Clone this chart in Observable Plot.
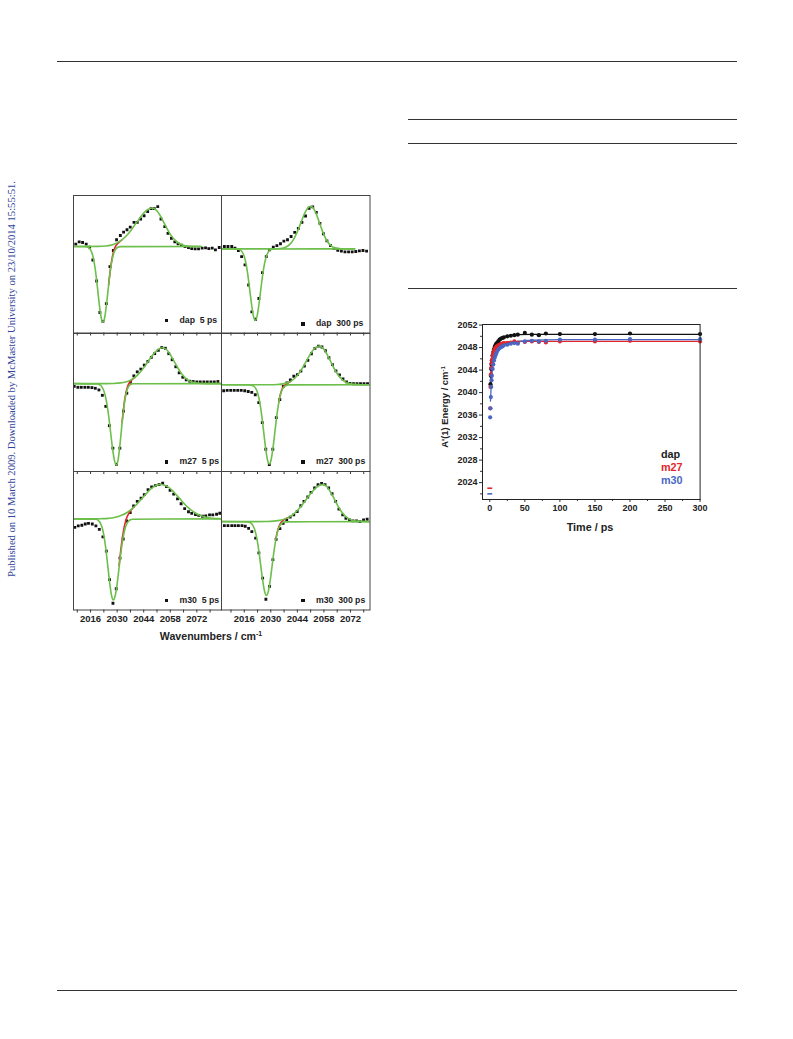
<!DOCTYPE html>
<html>
<head>
<meta charset="utf-8">
<script src="https://cdn.jsdelivr.net/npm/d3@7"></script>
<script src="https://cdn.jsdelivr.net/npm/@observablehq/plot@0.6"></script>
<style>
  body { margin: 0; background: #fff; }
  #page { position: relative; width: 793px; height: 1039px; overflow: hidden; background: #fff;
          font-family: "Liberation Sans", Arial, sans-serif; }
  .rule { position: absolute; height: 0; border-top: 1px solid #333; }
  .lbl { position: absolute; white-space: pre; font-weight: bold; line-height: 1; }
  .vert { position: absolute; white-space: nowrap; transform: translate(-50%, -50%) rotate(-90deg); line-height: 1; }
  .sq { position: absolute; width: 3.6px; height: 3.6px; background: #111; }
  sup { font-size: 65%; vertical-align: 0.55em; line-height: 0; }
</style>
</head>
<body>
<div id="page"></div>
<script>
// ---------------- Spectral panels: data points [wavenumber, dA (a.u.)] ----------------
const dap5Points = [[2008.2,1.7],[2010.0,3.4],[2011.8,2.9],[2013.7,1.7],[2015.5,-0.5],[2017.2,-9.8],[2019.2,-25.1],[2020.9,-48.0],[2022.5,-54.4],[2024.3,-41.5],[2026.2,-14.6],[2028.0,-2.9],[2029.7,4.9],[2031.7,8.0],[2033.4,10.5],[2035.2,12.2],[2036.9,14.1],[2038.9,17.6],[2040.6,17.6],[2042.4,20.0],[2044.2,22.4],[2046.1,25.4],[2047.9,27.6],[2049.6,27.6],[2051.4,29.0],[2053.1,20.0],[2055.1,14.5],[2056.8,9.5],[2058.6,6.0],[2060.4,3.4],[2062.1,2.0],[2063.9,1.0],[2065.8,0],[2067.6,-0.7],[2069.3,-1.5],[2071.1,-1.7],[2072.9,-1.7],[2074.8,-1.2],[2076.6,-1.0],[2078.3,-1.5],[2080.1,-1.2],[2081.8,-2.4],[2083.8,-0.7]];
const dap300Points = [[2005.5,1.7],[2007.4,1.7],[2009.4,1.7],[2011.1,0.5],[2012.9,-1.2],[2014.6,-5.6],[2016.4,-11.7],[2018.3,-26.3],[2020.0,-45.8],[2022.0,-51.2],[2023.7,-36.1],[2025.6,-17.3],[2027.6,-5.6],[2029.3,-0.7],[2031.3,1.2],[2033.2,2.4],[2035.1,3.7],[2036.9,5.6],[2038.8,6.6],[2040.7,9.0],[2042.6,12.0],[2044.5,14.9],[2046.4,19.3],[2048.3,23.9],[2050.2,29.5],[2052.1,30.5],[2054.0,26.5],[2055.9,18.5],[2057.7,11.0],[2059.6,5.8],[2061.5,2.4],[2063.4,0.2],[2065.3,-1.0],[2067.2,-1.7],[2069.1,-2.2],[2071.0,-2.2],[2072.9,-2.2],[2074.8,-1.9],[2076.7,-1.5],[2078.6,-1.2],[2080.5,-1.7]];
const m27fastPoints = [[2007.4,-2.0],[2009.3,-2.7],[2011.1,-2.7],[2013.0,-2.7],[2014.8,-2.7],[2016.7,-2.9],[2018.5,-3.4],[2020.4,-4.6],[2022.2,-8.5],[2024.0,-16.5],[2025.9,-30.5],[2027.75,-46.8],[2029.6,-58.5],[2031.45,-46.8],[2033.3,-20.0],[2035.1,-7.0],[2037.0,1.0],[2038.8,5.6],[2040.6,8.5],[2042.5,10.5],[2044.3,13.4],[2046.2,16.1],[2048.0,19.0],[2049.8,21.7],[2051.7,24.1],[2053.5,26.1],[2055.4,25.6],[2057.2,21.7],[2059.0,17.3],[2060.9,12.2],[2062.7,7.8],[2064.6,4.6],[2066.4,2.7],[2068.3,1.7],[2070.1,1.5],[2072.0,1.2],[2073.8,1.2],[2075.7,1.2],[2077.5,1.2],[2079.4,1.2],[2081.2,1.2],[2083.1,1.5]];
const m27slowPoints = [[2005.15,-4.4],[2007.0,-4.1],[2008.85,-4.1],[2010.7,-4.1],[2012.55,-4.1],[2014.4,-4.1],[2016.25,-4.4],[2018.1,-4.9],[2019.95,-5.6],[2021.8,-7.3],[2023.65,-13.0],[2025.5,-27.5],[2027.35,-46.8],[2029.2,-57.8],[2031.05,-46.8],[2032.9,-23.9],[2034.75,-10.7],[2036.6,-1.2],[2038.45,1.2],[2040.3,3.4],[2042.15,6.1],[2044.0,7.3],[2045.85,9.8],[2047.7,13.4],[2049.55,17.6],[2051.4,22.4],[2053.25,26.3],[2055.1,28.0],[2056.95,27.3],[2058.8,24.6],[2060.65,19.5],[2062.5,14.6],[2064.35,10.0],[2066.2,7.1],[2068.05,4.1],[2069.9,2.0],[2071.75,1.0],[2073.6,0.7],[2075.45,0.7],[2077.3,0.7],[2079.15,0.7],[2081.0,0.7]];
const m30fastPoints = [[2007.7,-6.1],[2009.5,-5.1],[2011.4,-4.6],[2013.2,-3.7],[2014.9,-3.2],[2016.9,-3.7],[2018.8,-5.1],[2020.6,-7.6],[2022.5,-13.0],[2024.3,-23.4],[2026.0,-44.1],[2027.8,-61.2],[2029.5,-50.7],[2031.5,-28.5],[2033.2,-14.6],[2035.0,-1.5],[2036.9,4.6],[2038.7,9.5],[2040.6,12.7],[2042.6,15.1],[2044.3,17.6],[2046.3,21.2],[2048.2,23.2],[2050.1,24.1],[2052.1,24.9],[2054.0,25.9],[2056.0,23.4],[2057.9,20.7],[2059.8,18.0],[2061.8,14.5],[2063.7,11.0],[2065.6,7.5],[2067.6,5.2],[2069.3,4.0],[2071.3,3.2],[2073.0,2.6],[2075.0,1.9],[2076.7,2.2],[2078.7,2.9],[2080.4,2.9],[2082.4,3.4],[2084.1,4.1]];
const m30slowPoints = [[2005.5,-2.9],[2007.4,-2.9],[2009.4,-2.9],[2011.1,-2.9],[2012.9,-2.9],[2014.8,-2.9],[2016.5,-3.4],[2018.3,-4.9],[2020.0,-7.3],[2022.0,-12.0],[2023.7,-22.7],[2025.7,-41.0],[2027.4,-56.3],[2029.3,-47.0],[2031.1,-27.6],[2032.8,-12.9],[2034.8,-5.1],[2036.5,-1.2],[2038.4,1.2],[2040.2,3.2],[2042.1,4.9],[2043.9,7.3],[2045.8,11.5],[2047.5,14.6],[2049.5,17.8],[2051.2,21.2],[2053.1,24.4],[2054.9,26.8],[2056.8,27.6],[2058.6,26.8],[2060.5,24.4],[2062.3,20.2],[2064.2,14.6],[2065.9,9.0],[2067.9,4.9],[2069.6,2.4],[2071.5,1.2],[2073.3,0.5],[2075.2,0.5],[2077.0,0],[2078.9,1.2],[2080.8,1.7]];

// ---------------- Fitted components (bleach, excited band, red sum) ----------------
const dap5Bleach = [[2004,0],[2013.5,-0.1],[2014.5,-0.5],[2015.5,-1.5],[2016.5,-3.8],[2017.5,-8.6],[2018.5,-16.8],[2019.5,-28.3],[2020.5,-40.9],[2021.5,-51.1],[2022.5,-55.0],[2023.5,-51.1],[2024.5,-40.9],[2025.5,-28.3],[2026.5,-16.8],[2027.5,-8.6],[2028.5,-3.8],[2029.5,-1.5],[2030.5,-0.5],[2031.5,-0.1],[2074.2,0]];
const dap5Excited = [[2004,0],[2020,0.1],[2024,0.4],[2028,1.5],[2032,4.3],[2036,9.5],[2040,17.0],[2044,24.3],[2046,26.8],[2048.5,28.0],[2050.5,26.6],[2052.5,22.9],[2054.5,17.8],[2056.5,12.5],[2058.5,7.9],[2060.5,4.6],[2062.5,2.4],[2064.5,1.1],[2067.5,0.3],[2074.2,0]];
const dap5Sum = [[2025.5,-27.7],[2026.5,-16.0],[2027.5,-7.4],[2028.5,-2.0],[2029.5,0.9],[2030.5,2.5],[2031.5,3.7],[2032.5,4.8]];

const dap300Bleach = [[2004,0],[2011.8,-0.1],[2012.8,-0.25],[2013.8,-0.75],[2014.8,-2.0],[2015.8,-4.8],[2016.8,-9.9],[2017.8,-18.0],[2018.8,-28.7],[2019.8,-39.9],[2020.8,-48.7],[2021.8,-52.0],[2022.8,-48.7],[2023.8,-39.9],[2024.8,-28.7],[2025.8,-18.0],[2026.8,-9.9],[2027.8,-4.8],[2028.8,-2.0],[2029.8,-0.75],[2030.8,-0.25],[2031.8,-0.1],[2074.2,0]];
const dap300Excited = [[2004,0],[2030,0],[2035,0.3],[2038,1.4],[2040,3.3],[2042,6.9],[2044,12.5],[2046,19.5],[2048,26.3],[2049.5,29.7],[2051,31.0],[2052.5,29.5],[2054,25.3],[2056,17.6],[2058,10.2],[2060,5.0],[2062,2.0],[2064,0.7],[2067,0.1],[2074.2,0]];

const m27fastBleach = [[2004,0],[2019.6,-0.24],[2020.6,-0.65],[2021.6,-1.7],[2022.6,-3.9],[2023.6,-8.0],[2024.6,-14.7],[2025.6,-24.2],[2026.6,-35.8],[2027.6,-47.3],[2028.6,-55.8],[2029.6,-59.0],[2030.6,-54.5],[2031.6,-42.8],[2032.6,-28.7],[2033.6,-16.4],[2034.6,-8.0],[2035.6,-3.3],[2036.6,-1.2],[2037.6,-0.35],[2038.6,-0.1],[2085,0]];
const m27fastExcited = [[2004,0],[2024,0],[2028,0.1],[2032,0.5],[2035,1.3],[2038,3.2],[2041,6.5],[2044,11.4],[2047,17.4],[2050,22.8],[2052,25.2],[2054,26.0],[2056,24.7],[2058,21.1],[2060,16.3],[2062,11.3],[2064,7.1],[2066,4.0],[2068,2.0],[2070,0.9],[2073,0.2],[2077,0],[2085,0]];
const m27fastSum = [[2032.6,-28.1],[2033.6,-15.55],[2034.6,-6.9],[2035.6,-1.75],[2036.6,1.0],[2037.6,2.55],[2038.6,3.7],[2039.6,4.9]];

const m27slowBleach = [[2004,0],[2019.2,-0.15],[2020.2,-0.5],[2021.2,-1.3],[2022.2,-3.1],[2023.2,-6.7],[2024.2,-13.0],[2025.2,-22.2],[2026.2,-33.6],[2027.2,-45.3],[2028.2,-54.2],[2029.2,-57.5],[2030.2,-54.2],[2031.2,-45.3],[2032.2,-33.6],[2033.2,-22.2],[2034.2,-13.0],[2035.2,-6.7],[2036.2,-3.1],[2037.2,-1.3],[2038.2,-0.5],[2039.2,-0.15],[2082.3,0]];
const m27slowExcited = [[2004,0],[2029.5,0],[2033.5,0.15],[2036.5,0.6],[2039.5,1.8],[2042.5,4.5],[2045.5,9.5],[2048.5,16.5],[2051.5,23.6],[2053.5,26.8],[2055.5,28.0],[2057.5,26.5],[2059.5,22.4],[2061.5,17.0],[2063.5,11.5],[2065.5,7.0],[2067.5,3.8],[2069.5,1.8],[2071.5,0.8],[2074.5,0.2],[2078,0],[2082.3,0]];
const m27slowSum = [[2034.2,-12.65],[2035.2,-6.25],[2036.2,-2.5],[2037.2,-0.5],[2038.2,0.6],[2039.2,1.45],[2040.2,2.1]];

const m30fastBleach = [[2004,0],[2019,-0.3],[2020,-1.0],[2021,-2.6],[2022,-5.9],[2023,-11.9],[2024,-21.2],[2025,-33.2],[2026,-45.6],[2027,-55.2],[2028,-58.8],[2029,-55.6],[2030,-47.1],[2031,-35.7],[2032,-24.2],[2033,-14.6],[2034,-7.9],[2035,-3.9],[2036,-1.7],[2037,-0.6],[2038,-0.2],[2085,0]];
const m30fastExcited = [[2004,0],[2019,0.05],[2021,0.1],[2023,0.2],[2025,0.4],[2027,0.7],[2029,1.2],[2031,1.9],[2033,3.0],[2035,4.5],[2037,6.4],[2039,8.8],[2041,11.6],[2043,14.7],[2045,17.8],[2047,20.7],[2049,23.0],[2051,24.5],[2053,25.0],[2055,24.5],[2057,23.0],[2059,20.7],[2061,17.8],[2063,14.7],[2065,11.6],[2067,8.8],[2069,6.4],[2071,4.5],[2073,3.0],[2075,1.9],[2077,1.2],[2079,0.7],[2081,0.4],[2083,0.2],[2085,0.1]];
const m30fastSum = [[2031,-33.8],[2032,-21.8],[2033,-11.6],[2034,-4.2],[2035,0.6],[2036,3.7],[2037,5.8],[2038,7.4],[2039,8.8]];

const m30slowBleach = [[2004,0],[2017.7,-0.2],[2018.7,-0.5],[2019.7,-1.3],[2020.7,-3.2],[2021.7,-6.7],[2022.7,-12.7],[2023.7,-21.3],[2024.7,-31.9],[2025.7,-42.5],[2026.7,-50.5],[2027.7,-53.5],[2028.7,-50.5],[2029.7,-42.5],[2030.7,-31.9],[2031.7,-21.3],[2032.7,-12.7],[2033.7,-6.7],[2034.7,-3.2],[2035.7,-1.3],[2036.7,-0.5],[2037.7,-0.2],[2082.3,0]];
const m30slowExcited = [[2004,0],[2023.5,0],[2027.5,0.07],[2031.5,0.3],[2035.5,1.1],[2038.5,2.5],[2041.5,4.9],[2044.5,8.8],[2047.5,13.9],[2050.5,19.4],[2053.5,24.1],[2055.5,26.1],[2057.5,26.8],[2059.5,25.4],[2061.5,21.4],[2063.5,16.3],[2065.5,11.0],[2067.5,6.7],[2069.5,3.6],[2071.5,1.8],[2073.5,0.8],[2076.5,0.2],[2080.5,0],[2082.3,0]];
const m30slowSum = [[2032.7,-12.2],[2033.7,-6.0],[2034.7,-2.3],[2035.7,-0.15],[2036.7,1.1],[2037.7,1.95],[2038.7,2.7]];

const waveTicks = [2016, 2030, 2044, 2058, 2072];
const waveMinorTicks = [2009, 2023, 2037, 2051, 2065, 2079];

// ---------------- A'(1) energy vs time ----------------
const timeDap = [1,1.5,2,2.5,3,4,5,6,7,8,9,10,12,14,16,18,20,25,30,35,40,50,60,70,80,100,150,200,300];
const energyDap = [2041.5,2043.0,2044.2,2045.0,2045.7,2046.6,2047.2,2047.7,2048.1,2048.4,2048.6,2048.8,2049.1,2049.4,2049.6,2049.7,2049.8,2050.0,2050.1,2050.2,2050.3,2050.6,2050.3,2050.2,2050.5,2050.4,2050.4,2050.5,2050.4];
const timeMut = [0.5,1,1.5,2,2.5,3,4,5,6,7,8,9,10,12,14,16,18,20,25,30,35,40,50,60,70,80,100,150,200,300];
const energyM27 = [2037.2,2041.0,2043.2,2044.4,2045.2,2045.8,2046.5,2047.0,2047.4,2047.7,2047.9,2048.1,2048.2,2048.4,2048.5,2048.6,2048.7,2048.8,2048.8,2048.9,2049.1,2048.9,2049.0,2049.1,2049.0,2048.9,2049.1,2049.1,2049.2,2049.1];
const energyM30 = [2035.6,2037.2,2039.2,2041.0,2042.2,2043.0,2044.2,2045.0,2045.7,2046.2,2046.6,2046.9,2047.2,2047.6,2047.9,2048.1,2048.2,2048.4,2048.5,2048.7,2048.8,2048.7,2049.1,2049.2,2049.1,2049.2,2049.4,2049.4,2049.5,2049.5];
const zeroTimeDash = [{sample: "m27", t: 0, e: 2023.0}, {sample: "m30", t: 0, e: 2022.0}];
const dapFit = [[1,2041.8],[2,2044.0],[3,2045.6],[4,2046.6],[5,2047.3],[6,2047.8],[8,2048.5],[10,2049.0],[12,2049.3],[15,2049.65],[20,2049.95],[25,2050.1],[30,2050.2],[40,2050.3],[60,2050.35],[300,2050.35]];
const m27Fit = [[1,2041.3],[2,2044.3],[3,2045.8],[4,2046.6],[5,2047.1],[6,2047.5],[8,2048.0],[10,2048.35],[12,2048.55],[15,2048.75],[20,2048.9],[30,2049.05],[50,2049.1],[300,2049.1]];
const m30Fit = [[1,2038.5],[2,2041.3],[3,2043.1],[4,2044.3],[5,2045.1],[6,2045.8],[8,2046.7],[10,2047.3],[12,2047.7],[15,2048.1],[20,2048.5],[30,2048.9],[40,2049.1],[60,2049.3],[100,2049.4],[300,2049.4]];
const timeXTicks = [0, 50, 100, 150, 200, 250, 300];
const timeXMinor = [25, 75, 125, 175, 225, 275];
const timeYTicks = [2024, 2028, 2032, 2036, 2040, 2044, 2048, 2052];
const timeYMinor = [2022, 2026, 2030, 2034, 2038, 2042, 2046, 2050];

// ---------------- colours ----------------
const GREEN = "#6cbf4a", RED = "#e3262b", BLUE = "#4a66c2", BLACK = "#111";

const page = document.getElementById("page");
function add(html) { const d = document.createElement("div"); d.innerHTML = html; const el = d.firstElementChild; page.appendChild(el); return el; }
function place(node, left, top) { node.style.position = "absolute"; node.style.left = left + "px"; node.style.top = top + "px"; page.appendChild(node); }

// page rules
[[57, 61, 680], [57, 990, 680], [408, 119, 329], [408, 143, 329], [408, 288, 329]].forEach(([x, y, w]) =>
  add(`<div class="rule" style="left:${x}px;top:${y}px;width:${w}px"></div>`));

// margin watermark
add(`<div class="vert" style="left:12px;top:379px;font-family:'Liberation Serif','Times New Roman',serif;font-size:10.6px;color:#34449c">Published on 10 March 2009. Downloaded by McMaster University on 23/10/2014 15:55:51.</div>`);

// ---------------- six spectral panels ----------------
const panels = [
  {sample: "dap", delay: "5 ps",   points: dap5Points,    bleach: dap5Bleach,     excited: dap5Excited,     sum: dap5Sum,     yDomain: [-62.9, 37.1]},
  {sample: "dap", delay: "300 ps", points: dap300Points,  bleach: dap300Bleach,   excited: dap300Excited,   sum: null,        yDomain: [-61.2, 38.8]},
  {sample: "m27", delay: "5 ps",   points: m27fastPoints, bleach: m27fastBleach,  excited: m27fastExcited,  sum: m27fastSum,  yDomain: [-63.7, 36.3]},
  {sample: "m27", delay: "300 ps", points: m27slowPoints, bleach: m27slowBleach,  excited: m27slowExcited,  sum: m27slowSum,  yDomain: [-62.9, 37.1]},
  {sample: "m30", delay: "5 ps",   points: m30fastPoints, bleach: m30fastBleach,  excited: m30fastExcited,  sum: m30fastSum,  yDomain: [-66.1, 34.4]},
  {sample: "m30", delay: "300 ps", points: m30slowPoints, bleach: m30slowBleach,  excited: m30slowExcited,  sum: m30slowSum,  yDomain: [-64.1, 36.3]}
];
const cols = [[72.5, 220.5], [220.5, 369]];
const rows = [[195, 332.5], [332.5, 470.5], [470.5, 609]];
const xDomains = [[2007, 2085], [2004, 2082.3]];
const fx = d => d[0], fy = d => d[1];

panels.forEach((p, i) => {
  const c = i % 2, r = Math.floor(i / 2);
  const [x0, x1] = cols[c], [y0, y1] = rows[r];
  const bottom = r === 2;
  const mb = bottom ? 24 : 1;
  const svg = Plot.plot({
    width: x1 - x0 + 2, height: y1 - y0 + 1 + mb,
    marginTop: 1, marginLeft: 1, marginRight: 1, marginBottom: mb,
    x: {domain: xDomains[c]}, y: {domain: p.yDomain, axis: null},
    style: "background:none;overflow:visible;font-family:'Liberation Sans',Arial,sans-serif;font-size:9.5px;font-weight:bold;color:#222;",
    marks: [
      Plot.dot(p.points, {x: fx, y: fy, symbol: "square", fill: "#111", r: 1.6, clip: true}),
      p.sum ? Plot.line(p.sum, {x: fx, y: fy, stroke: RED, strokeWidth: 1.6, curve: "monotone-x", clip: true}) : null,
      Plot.line(p.bleach, {x: fx, y: fy, stroke: GREEN, strokeWidth: 1.6, curve: "monotone-x", clip: true}),
      Plot.line(p.excited, {x: fx, y: fy, stroke: GREEN, strokeWidth: 1.6, curve: "monotone-x", clip: true}),
      Plot.axisX(waveMinorTicks, {tickSize: 3, tickFormat: () => "", label: null, stroke: "#333"}),
      Plot.axisX(waveTicks, {tickSize: 3, tickPadding: 2, tickFormat: bottom ? (d => String(d)) : (() => ""), label: null, stroke: "#333", fill: "#222"}),
      Plot.frame({stroke: "#444", strokeWidth: 1})
    ]
  });
  place(svg, x0 - 1, y0 - 1);
  // legend: black square + label
  const right = x1;
  const sqX = c === 0 ? right - 56 : right - 68;
  const txX = c === 0 ? right - 41 : right - 53;
  const cy = (i === 0) ? y1 - 12 : y1 - 8.5;
  add(`<div class="sq" style="left:${sqX}px;top:${cy - 1.8}px"></div>`);
  add(`<div class="lbl" style="left:${txX}px;top:${cy - 5}px;font-size:8.7px;color:#222">${p.sample}  ${p.delay}</div>`);
});
add(`<div class="lbl" style="left:211px;top:636px;transform:translate(-50%,-50%);font-size:10.6px;color:#222">Wavenumbers / cm<sup>-1</sup></div>`);

// ---------------- time plot ----------------
const series = [
  {color: BLACK, fit: dapFit, pts: timeDap.map((t, k) => ({t, e: energyDap[k]}))},
  {color: RED,   fit: m27Fit, pts: timeMut.map((t, k) => ({t, e: energyM27[k]}))},
  {color: BLUE,  fit: m30Fit, pts: timeMut.map((t, k) => ({t, e: energyM30[k]}))}
];
const TL = 50, TR = 8, TT = 6, TB = 40;
const frameX0 = 481.7, frameX1 = 699.3, frameY0 = 324.3, frameY1 = 499.3;
const tsvg = Plot.plot({
  width: frameX1 - frameX0 + TL + TR, height: frameY1 - frameY0 + TT + TB,
  marginLeft: TL, marginRight: TR, marginTop: TT, marginBottom: TB,
  x: {domain: [-10.4, 300]}, y: {domain: [2021, 2052.1]},
  style: "background:none;overflow:visible;font-family:'Liberation Sans',Arial,sans-serif;font-size:9px;font-weight:bold;color:#222;",
  marks: [
    ...series.map(s => Plot.line(s.fit, {x: fx, y: fy, stroke: s.color, strokeWidth: 1.3, curve: "monotone-x"})),
    ...series.map(s => Plot.dot(s.pts, {x: "t", y: "e", fill: s.color, r: 2.1})),
    Plot.link(zeroTimeDash, {x1: d => d.t - 3.5, x2: d => d.t + 3.5, y1: "e", y2: "e", stroke: d => d.sample === "m27" ? RED : BLUE, strokeWidth: 1.6}),
    Plot.axisX(timeXMinor, {tickSize: 2, tickFormat: () => "", label: null, stroke: "#333"}),
    Plot.axisX(timeXTicks, {tickSize: 3, tickPadding: 2, tickFormat: d => String(d), label: null, stroke: "#333", fill: "#222"}),
    Plot.axisY(timeYMinor, {tickSize: 2, tickFormat: () => "", label: null, stroke: "#333"}),
    Plot.axisY(timeYTicks, {tickSize: 3, tickPadding: 2, tickFormat: d => String(d), label: null, stroke: "#333", fill: "#222"}),
    Plot.frame({stroke: "#222", strokeWidth: 1})
  ]
});
place(tsvg, frameX0 - TL, frameY0 - TT);
add(`<div class="lbl" style="left:590px;top:527px;transform:translate(-50%,-50%);font-size:10.8px;color:#222">Time / ps</div>`);
add(`<div class="vert" style="left:445px;top:407px;font-weight:bold;font-size:9.4px;color:#222">A'(1) Energy / cm<sup>-1</sup></div>`);
add(`<div class="lbl" style="left:661px;top:448.5px;font-size:10.8px;color:#222">dap</div>`);
add(`<div class="lbl" style="left:661px;top:461.5px;font-size:10.8px;color:${RED}">m27</div>`);
add(`<div class="lbl" style="left:661px;top:474.5px;font-size:10.8px;color:${BLUE}">m30</div>`);
</script>
</body>
</html>
